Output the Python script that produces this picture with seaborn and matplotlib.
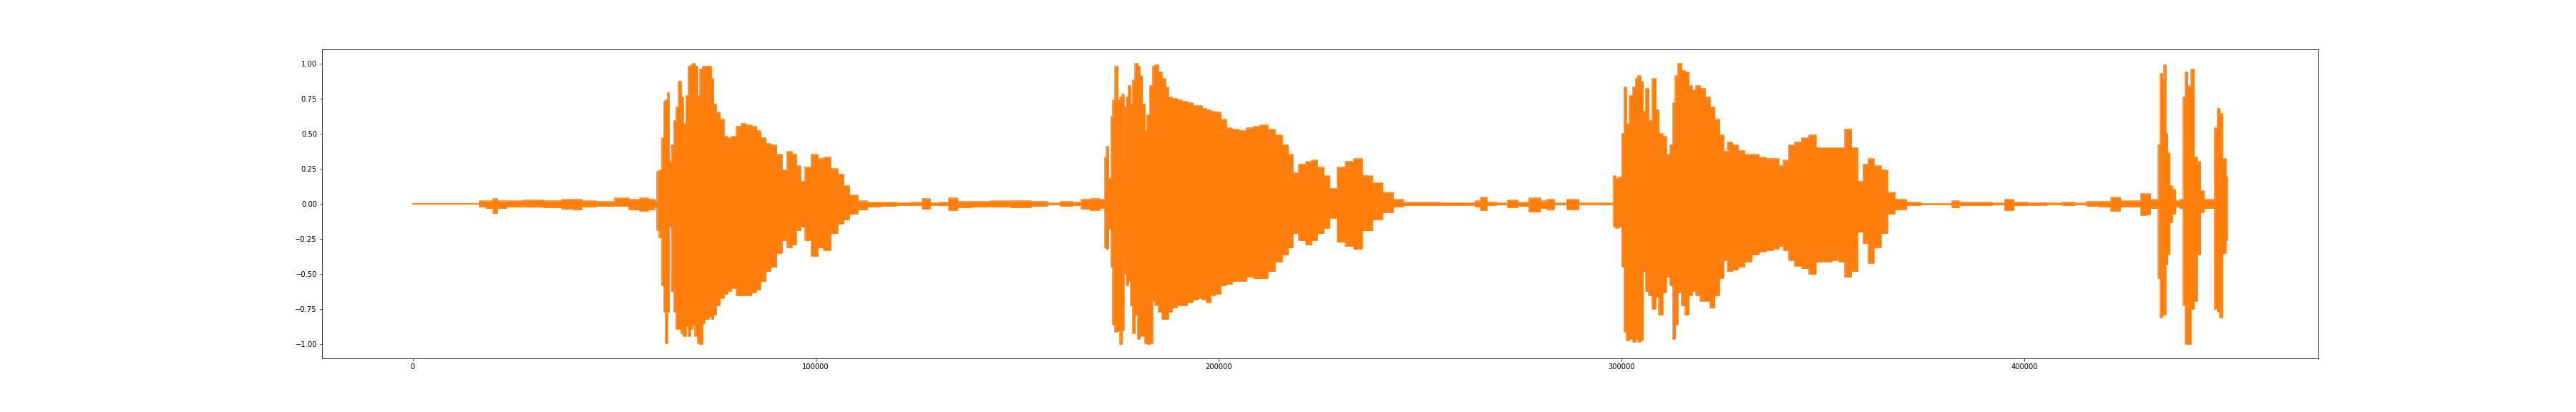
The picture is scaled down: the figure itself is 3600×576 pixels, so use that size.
import matplotlib
matplotlib.use("Agg")
import matplotlib.pyplot as plt
import seaborn as sns
import pandas as pd

# Waveform envelope (sample index, upper / lower amplitude)
env_x = [0, 16000, 17000, 19500, 20500, 21500, 25000, 30000, 35000, 39000, 41000, 43000, 48000,
         52400, 55000, 57500, 59500, 60500, 60850, 61560, 62150, 62450, 63050, 63450, 63900,
         64500, 65100, 65700, 66300, 66900, 67500, 68100, 68700, 69300, 69800, 70400, 71000,
         71600, 72200, 72800, 73300, 73850, 74400, 75000, 75600, 76800, 77700, 78550, 79750,
         80950, 82100, 83300, 84950, 85800, 87000, 88200, 89600, 91100, 92300, 93500, 94700,
         95700, 96900, 98000, 99800, 101300, 102800, 104600, 106350, 107550, 109300, 111700,
         114000, 118000, 122000, 125500, 127400, 129500, 132000, 134000, 136500, 141000, 146000,
         151000, 156000, 159000, 162500, 165000, 167000, 169500, 171500, 172000, 172400, 173000,
         173600, 174050, 174650, 175250, 175850, 176400, 176600, 176900, 177300, 177900, 178450,
         179000, 179600, 180200, 180800, 181400, 182000, 182500, 183400, 184000, 184600, 185500,
         186400, 187300, 187900, 189100, 190300, 191600, 193000, 194200, 195400, 196500, 197500,
         198600, 199800, 201300, 202500, 204200, 206000, 207800, 209500, 211300, 213100, 214900,
         216700, 217900, 219000, 220800, 222600, 223800, 225300, 226800, 228300, 230600, 232500,
         234560, 236800, 239650, 241900, 244750, 247000, 263000, 264500, 265700, 267500, 270500,
         273100, 275500, 278750, 281000, 282150, 284500, 288400, 290500, 298000, 298200, 298950,
         299850, 300400, 301000, 301600, 302500, 303100, 303900, 304500, 305100, 305700, 306300,
         307200, 308100, 308900, 309800, 310700, 311600, 312500, 313100, 313700, 314400, 315400,
         316300, 317200, 318100, 319000, 320200, 321400, 322600, 323800, 324900, 325800, 327000,
         328200, 329700, 331500, 333300, 335000, 336800, 338600, 339500, 341000, 342100, 343900,
         345700, 347500, 349000, 351000, 353400, 354600, 356400, 357800, 359500, 360600, 361950,
         363400, 365450, 366600, 369100, 372400, 376000, 381500, 382700, 385000, 390000, 394000,
         396300, 398500, 403000, 408000, 410900, 414000, 417000, 420500, 422700, 425000, 428000,
         429800, 430700, 432000, 433000, 433650, 433950, 434500, 434850, 435400, 435800, 436400,
         437150, 438000, 439200, 439800, 440200, 441000, 441800, 442500, 443400, 444200, 445000,
         446800, 447800, 448300, 448800, 449600, 450500]

env_upper = [0, 0, 0.02, 0.02, 0.035, 0.02, 0.02, 0.025, 0.02, 0.03, 0.03, 0.02, 0.015,
             0.04, 0.03, 0.04, 0.03, 0.02, 0.23, 0.24, 0.47, 0.73, 0.74, 0.79, 0.30,
             0.42, 0.59, 0.69, 0.87, 0.76, 0.57, 0.77, 0.98, 0.99, 1.0, 0.98, 0.77,
             0.96, 0.98, 0.98, 0.98, 0.98, 0.89, 0.71, 0.65, 0.60, 0.48, 0.47, 0.48,
             0.55, 0.57, 0.56, 0.55, 0.52, 0.47, 0.43, 0.42, 0.35, 0.24, 0.37, 0.35,
             0.27, 0.16, 0.26, 0.35, 0.32, 0.33, 0.25, 0.21, 0.13, 0.06, 0.02,
             0.01, 0.01, 0.008, 0.01, 0.034, 0.008, 0.01, 0.04, 0.015, 0.015, 0.02,
             0.02, 0.015, 0.005, 0.015, 0.01, 0.03, 0.035, 0.03, 0.33, 0.41, 0.18,
             0.62, 0.74, 0.98, 0.74, 0.76, 0.78, 0.33, 0.69, 0.76, 0.84, 0.71,
             0.88, 1.0, 0.98, 0.91, 0.71, 0.52, 0.63, 0.84, 0.98, 0.99, 0.94,
             0.89, 0.83, 0.76, 0.75, 0.74, 0.73, 0.72, 0.70, 0.70, 0.68, 0.67,
             0.66, 0.65, 0.60, 0.54, 0.53, 0.52, 0.54, 0.55, 0.56, 0.53, 0.49,
             0.42, 0.35, 0.22, 0.28, 0.30, 0.31, 0.26, 0.20, 0.11, 0.26, 0.30,
             0.32, 0.20, 0.15, 0.08, 0.03, 0.01, 0.008, 0.02, 0.045, 0.01, 0.005,
             0.025, 0.01, 0.04, 0.02, 0.03, 0.005, 0.03, 0.005, 0.005, 0.20, 0.18,
             0.19, 0.50, 0.83, 0.57, 0.77, 0.83, 0.89, 0.91, 0.87, 0.66, 0.82,
             0.59, 0.89, 0.67, 0.50, 0.48, 0.35, 0.42, 0.72, 0.91, 1.0, 0.95,
             0.94, 0.84, 0.81, 0.84, 0.82, 0.76, 0.69, 0.60, 0.49, 0.37, 0.44,
             0.42, 0.38, 0.35, 0.35, 0.33, 0.32, 0.32, 0.27, 0.31, 0.42, 0.44,
             0.47, 0.49, 0.40, 0.40, 0.40, 0.40, 0.53, 0.40, 0.16, 0.28, 0.32,
             0.27, 0.24, 0.08, 0.03, 0.01, 0.003, 0.003, 0.02, 0.01, 0.01, 0.005,
             0.03, 0.01, 0.008, 0.005, 0.01, 0.004, 0.015, 0.015, 0.045, 0.02, 0.02,
             0.07, 0.07, 0.03, 0.03, 0.42, 0.93, 0.88, 0.99, 0.50, 0.36, 0.13,
             0.10, 0.02, 0.03, 0.76, 0.94, 0.84, 0.96, 0.33, 0.30, 0.09, 0.03,
             0.03, 0.54, 0.68, 0.64, 0.32, 0.19]

env_lower = [0, 0, -0.02, -0.03, -0.065, -0.03, -0.02, -0.02, -0.025, -0.035, -0.04, -0.02, -0.015,
             -0.015, -0.04, -0.05, -0.04, -0.02, -0.19, -0.24, -0.58, -0.77, -0.99, -0.77, -0.16,
             -0.62, -0.77, -0.89, -0.89, -0.92, -0.94, -0.87, -0.94, -0.89, -0.86, -0.94, -0.99,
             -1.0, -0.85, -0.82, -0.82, -0.80, -0.82, -0.79, -0.72, -0.67, -0.64, -0.62, -0.60,
             -0.65, -0.65, -0.65, -0.63, -0.61, -0.55, -0.48, -0.45, -0.35, -0.26, -0.31, -0.29,
             -0.19, -0.16, -0.26, -0.37, -0.31, -0.33, -0.21, -0.14, -0.11, -0.07, -0.04,
             -0.02, -0.015, -0.01, -0.01, -0.034, -0.008, -0.01, -0.045, -0.025, -0.02, -0.02,
             -0.025, -0.015, -0.005, -0.015, -0.01, -0.035, -0.045, -0.03, -0.31, -0.32, -0.18,
             -0.45, -0.86, -0.91, -0.90, -1.0, -0.90, -0.35, -0.50, -0.58, -0.55, -0.72,
             -0.92, -0.79, -0.96, -0.94, -0.94, -0.99, -1.0, -0.99, -0.69, -0.72, -0.77,
             -0.82, -0.82, -0.77, -0.74, -0.72, -0.72, -0.70, -0.68, -0.67, -0.68, -0.70,
             -0.65, -0.64, -0.58, -0.57, -0.55, -0.55, -0.52, -0.53, -0.53, -0.48, -0.41,
             -0.36, -0.31, -0.21, -0.26, -0.29, -0.26, -0.21, -0.17, -0.10, -0.27, -0.30,
             -0.32, -0.19, -0.11, -0.06, -0.02, -0.01, -0.008, -0.02, -0.045, -0.01, -0.005,
             -0.025, -0.015, -0.055, -0.03, -0.04, -0.005, -0.038, -0.005, -0.005, -0.16, -0.17,
             -0.16, -0.45, -0.91, -0.97, -0.96, -0.98, -0.96, -0.98, -0.97, -0.48, -0.62,
             -0.65, -0.75, -0.66, -0.79, -0.63, -0.52, -0.58, -0.96, -0.86, -0.63, -0.72,
             -0.79, -0.65, -0.62, -0.65, -0.69, -0.69, -0.74, -0.65, -0.53, -0.40, -0.48,
             -0.47, -0.45, -0.41, -0.36, -0.34, -0.33, -0.32, -0.30, -0.33, -0.40, -0.44,
             -0.46, -0.50, -0.41, -0.41, -0.40, -0.41, -0.52, -0.48, -0.20, -0.28, -0.42,
             -0.31, -0.21, -0.07, -0.04, -0.01, -0.003, -0.003, -0.027, -0.01, -0.01, -0.005,
             -0.045, -0.01, -0.008, -0.005, -0.01, -0.004, -0.015, -0.02, -0.05, -0.02, -0.02,
             -0.08, -0.075, -0.03, -0.03, -0.53, -0.81, -0.79, -0.79, -0.43, -0.36, -0.13,
             -0.07, -0.02, -0.03, -0.72, -1.0, -1.0, -0.75, -0.69, -0.36, -0.06, -0.03,
             -0.03, -0.75, -0.77, -0.81, -0.35, -0.26]

df = pd.DataFrame({"sample": env_x, "upper": env_upper, "lower": env_lower})

wave_color = "#ff7f0e"

fig = plt.figure(figsize=(50, 8), dpi=72)
ax = fig.add_subplot(111)
fig.subplots_adjust(left=0.125, right=0.9, top=0.88, bottom=0.13)

ax.fill_between(df["sample"], df["lower"], df["upper"], color=wave_color,
                linewidth=0, step="mid")
sns.lineplot(data=df, x="sample", y="upper", ax=ax, color=wave_color, linewidth=1.5,
             estimator=None, sort=False, drawstyle="steps-mid")
sns.lineplot(data=df, x="sample", y="lower", ax=ax, color=wave_color, linewidth=1.5,
             estimator=None, sort=False, drawstyle="steps-mid")

ax.set_xlabel("")
ax.set_ylabel("")
ax.set_yticks([-1.0, -0.75, -0.5, -0.25, 0.0, 0.25, 0.5, 0.75, 1.0])
ax.set_ylim(-1.1, 1.1)

fig.savefig("out.png", dpi=72)
